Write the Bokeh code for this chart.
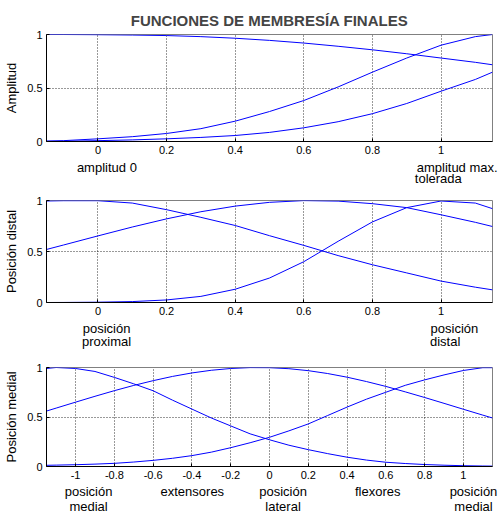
from bokeh.plotting import figure
from bokeh.layouts import column
from bokeh.models import Range1d, FixedTicker, LinearAxis
from bokeh.embed import file_html
from bokeh.resources import INLINE

# ---------------- data ----------------
title_text = "FUNCIONES DE MEMBRESÍA FINALES"

x12 = [-0.15, -0.1, 0.0, 0.1, 0.2, 0.3, 0.4, 0.5, 0.6, 0.7, 0.8, 0.9, 1.0, 1.1, 1.15]
amp_a = [1.0, 1.0, 0.998, 0.995, 0.99, 0.98, 0.965, 0.945, 0.92, 0.89, 0.857, 0.82, 0.78, 0.74, 0.717]
amp_b = [0.005, 0.008, 0.025, 0.045, 0.075, 0.12, 0.19, 0.28, 0.383, 0.51, 0.648, 0.78, 0.9, 0.98, 1.0]
amp_c = [0.0, 0.002, 0.008, 0.015, 0.025, 0.038, 0.056, 0.085, 0.128, 0.185, 0.26, 0.355, 0.47, 0.58, 0.648]

dist_d = [0.52, 0.564, 0.653, 0.74, 0.82, 0.89, 0.945, 0.982, 0.999, 0.994, 0.969, 0.93, 0.86, 0.786, 0.745]
dist_e = [0.995, 0.998, 0.998, 0.975, 0.91, 0.835, 0.755, 0.655, 0.56, 0.46, 0.37, 0.29, 0.21, 0.15, 0.124]
dist_f = [0.0, 0.0005, 0.003, 0.009, 0.025, 0.06, 0.13, 0.24, 0.40, 0.6, 0.79, 0.93, 0.995, 0.975, 0.92]

x3 = [-1.15, -1.1, -1.0, -0.9, -0.8, -0.7, -0.6, -0.5, -0.4, -0.3, -0.2, -0.1, 0.0,
      0.1, 0.2, 0.3, 0.4, 0.5, 0.6, 0.7, 0.8, 0.9, 1.0, 1.1, 1.15]
med_g = [0.56, 0.59, 0.65, 0.709, 0.766, 0.819, 0.867, 0.91, 0.945, 0.972, 0.99, 0.999, 0.998,
         0.988, 0.968, 0.939, 0.902, 0.858, 0.809, 0.754, 0.697, 0.638, 0.578, 0.519, 0.49]
med_h = [0.99, 1.0, 0.99, 0.96, 0.9, 0.835, 0.765, 0.67, 0.58, 0.49, 0.41, 0.33, 0.27,
         0.215, 0.17, 0.13, 0.094, 0.065, 0.043, 0.03, 0.02, 0.013, 0.008, 0.005, 0.004]
med_i = [0.012, 0.014, 0.018, 0.024, 0.032, 0.045, 0.062, 0.083, 0.11, 0.145, 0.19, 0.24, 0.295,
         0.36, 0.43, 0.515, 0.6, 0.68, 0.75, 0.82, 0.875, 0.925, 0.97, 0.998, 0.998]

xticks12 = [0, 0.2, 0.4, 0.6, 0.8, 1]
xlabels12 = ["0", "0.2", "0.4", "0.6", "0.8", "1"]
xticks3 = [-1, -0.8, -0.6, -0.4, -0.2, 0, 0.2, 0.4, 0.6, 0.8, 1]
xlabels3 = ["-1", "-0.8", "-0.6", "-0.4", "-0.2", "0", "0.2", "0.4", "0.6", "0.8", "1"]
yticks = [0, 0.5, 1]
ylabels = ["0", "0.5", "1"]

ylabel1 = "Amplitud"
ylabel2 = "Posición distal"
ylabel3 = "Posición medial"

# annotation texts under each axis, centred at these x values
notes1_r1 = ["amplitud 0", "amplitud max."]
notes1_r1_x = [0.026, 1.047]
notes1_r2 = ["tolerada"]
notes1_r2_x = [0.992]
notes2_r1 = ["posición", "posición"]
notes2_r1_x = [0.025, 1.039]
notes2_r2 = ["proximal", "distal"]
notes2_r2_x = [0.025, 1.012]
notes3 = ["posición\nmedial", "extensores", "posición\nlateral", "flexores", "posición\nmedial"]
notes3_x = [-0.933, -0.398, 0.070, 0.558, 1.052]

FONT = "Liberation Sans"
BLUE = "#0000ff"


def make_fig(xr, frame_h, top, bottom, xt, xl, ylab):
    p = figure(frame_width=446, frame_height=frame_h,
               x_range=Range1d(xr[0], xr[1]), y_range=Range1d(0, 1),
               output_backend="svg", toolbar_location=None,
               min_border_left=46, min_border_right=8,
               min_border_top=top, min_border_bottom=bottom)
    p.background_fill_color = "white"
    p.border_fill_color = "white"
    p.outline_line_color = "#808080"
    p.outline_line_width = 1

    p.xaxis.ticker = FixedTicker(ticks=xt)
    p.xaxis.major_label_overrides = {t: l for t, l in zip(xt, xl)}
    p.yaxis.ticker = FixedTicker(ticks=yticks)
    p.yaxis.major_label_overrides = {t: l for t, l in zip(yticks, ylabels)}

    for ax in (p.xaxis[0], p.yaxis[0]):
        ax.axis_line_color = "black"
        ax.major_tick_in = 3
        ax.major_tick_out = 0
        ax.major_tick_line_color = "black"
        ax.minor_tick_line_color = None
        ax.major_label_text_font = FONT
        ax.major_label_text_font_size = "11px"
        ax.major_label_text_color = "black"
        ax.major_label_standoff = 4

    p.yaxis.axis_label = ylab
    p.yaxis.axis_label_text_font = FONT
    p.yaxis.axis_label_text_font_size = "13px"
    p.yaxis.axis_label_text_font_style = "normal"
    p.yaxis.axis_label_text_color = "black"
    p.yaxis.axis_label_standoff = 5

    for g in (p.xgrid[0], p.ygrid[0]):
        g.grid_line_color = "black"
        g.grid_line_alpha = 0.8
        g.grid_line_dash = "1 2"
        g.grid_line_width = 1
    return p


def add_text_row(p, xs, texts, standoff, line_height=1.2):
    ax = LinearAxis(ticker=FixedTicker(ticks=xs),
                    major_label_overrides={t: l for t, l in zip(xs, texts)})
    ax.axis_line_color = None
    ax.major_tick_line_color = None
    ax.minor_tick_line_color = None
    ax.major_tick_in = 0
    ax.major_tick_out = 0
    ax.major_label_standoff = standoff
    ax.major_label_text_font = FONT
    ax.major_label_text_font_size = "13px"
    ax.major_label_text_color = "black"
    ax.major_label_text_line_height = line_height
    p.add_layout(ax, "below")


p1 = make_fig((-0.15, 1.15), 107, 34, 48, xticks12, xlabels12, ylabel1)
p1.title.text = title_text
p1.title.align = "center"
p1.title.text_font = FONT
p1.title.text_font_size = "15px"
p1.title.text_font_style = "bold"
p1.title.standoff = 11
for ys in (amp_a, amp_b, amp_c):
    p1.line(x12, ys, line_color=BLUE, line_width=1)
add_text_row(p1, notes1_r1_x, notes1_r1, 3)
add_text_row(p1, notes1_r2_x, notes1_r2, -7)

p2 = make_fig((-0.15, 1.15), 102, 11, 50, xticks12, xlabels12, ylabel2)
for ys in (dist_d, dist_e, dist_f):
    p2.line(x12, ys, line_color=BLUE, line_width=1)
add_text_row(p2, notes2_r1_x, notes2_r1, 3)
add_text_row(p2, notes2_r2_x, notes2_r2, -5)

p3 = make_fig((-1.15, 1.15), 99, 15, 46, xticks3, xlabels3, ylabel3)
for ys in (med_g, med_h, med_i):
    p3.line(x3, ys, line_color=BLUE, line_width=1)
add_text_row(p3, notes3_x, notes3, 2, line_height=1.0)

layout = column(p1, p2, p3, spacing=0)
open("out.html", "w").write(file_html(layout, INLINE))
